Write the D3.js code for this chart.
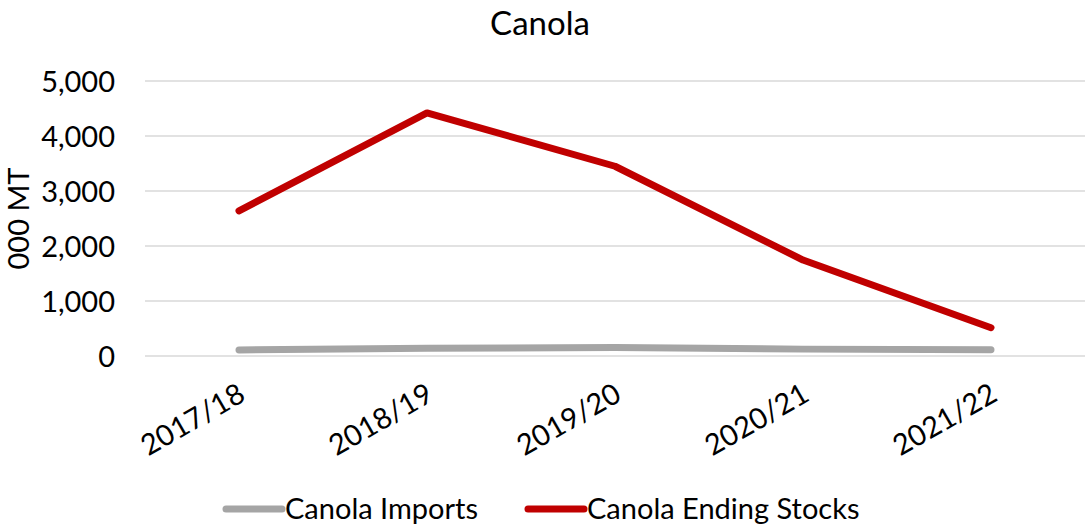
<!DOCTYPE html>
<html>
<head>
<meta charset="utf-8">
<script src="https://cdn.jsdelivr.net/npm/d3@7"></script>
<style>
  body { margin: 0; background: #fff; }
  text { font-family: Lato, "Open Sans", sans-serif; fill: #000; }
</style>
</head>
<body>
<script>
var seasons = ["2017/18", "2018/19", "2019/20", "2020/21", "2021/22"];
var imports = [110, 140, 155, 125, 115];
var endingStocks = [2640, 4420, 3450, 1745, 515];
var yTicks = [0, 1000, 2000, 3000, 4000, 5000];

var margin = {top: 81, right: 4, bottom: 172, left: 145},
    width = 1089 - margin.left - margin.right,
    height = 528 - margin.top - margin.bottom;

var svg = d3.select("body").append("svg")
    .attr("width", 1089)
    .attr("height", 528);

var g = svg.append("g")
    .attr("transform", "translate(" + margin.left + "," + margin.top + ")");

var xScale = d3.scalePoint().domain(seasons).range([0, width]).padding(0.5),
    yScale = d3.scaleLinear().domain([0, 5000]).range([height, 0]);

// gridlines
g.selectAll(".grid")
    .data(yTicks)
  .enter().append("line")
    .attr("x1", 0)
    .attr("x2", width)
    .attr("y1", function(d) { return yScale(d); })
    .attr("y2", function(d) { return yScale(d); })
    .style("stroke", "#d9d9d9")
    .style("stroke-width", 1.5);

// y axis
var yAxis = d3.axisLeft(yScale).tickValues(yTicks).tickSize(0).tickPadding(30)
    .tickFormat(d3.format(","));
g.append("g").call(yAxis)
    .call(function(a) { a.select(".domain").remove(); })
    .selectAll("text")
    .style("font-size", "29px")
    .attr("dy", "0.36em")
    .attr("font-family", null);

// x axis
var xAxis = d3.axisBottom(xScale).tickSize(0);
g.append("g")
    .attr("transform", "translate(0," + height + ")")
    .call(xAxis)
    .call(function(a) { a.select(".domain").remove(); })
    .selectAll("text")
    .attr("font-family", null)
    .style("font-size", "29px")
    .style("text-anchor", "end")
    .attr("dy", 0)
    .attr("transform", "translate(6,41) rotate(-30)");

// title
svg.append("text")
    .attr("x", 540)
    .attr("y", 35)
    .style("font-size", "33px")
    .style("text-anchor", "middle")
    .text("Canola");

// y label
svg.append("text")
    .attr("transform", "rotate(-90)")
    .attr("x", -(margin.top + height / 2))
    .attr("y", 29)
    .style("font-size", "29px")
    .style("text-anchor", "middle")
    .text("000 MT");

var line = d3.line()
    .x(function(d, i) { return xScale(seasons[i]); })
    .y(function(d) { return yScale(d); });

var series = [
  {name: "Canola Imports", values: imports, color: "#a5a5a5"},
  {name: "Canola Ending Stocks", values: endingStocks, color: "#c00000"}
];

g.selectAll(".series")
    .data(series)
  .enter().append("path")
    .attr("d", function(d) { return line(d.values); })
    .style("fill", "none")
    .style("stroke", function(d) { return d.color; })
    .style("stroke-width", 7)
    .style("stroke-linecap", "round")
    .style("stroke-linejoin", "round");

// legend
var legendX = [226, 528];
var legend = svg.selectAll(".legend")
    .data(series)
  .enter().append("g")
    .attr("transform", function(d, i) { return "translate(" + legendX[i] + ",509)"; });
legend.append("line")
    .attr("x1", 0).attr("x2", 56)
    .style("stroke", function(d) { return d.color; })
    .style("stroke-width", 7)
    .style("stroke-linecap", "round");
legend.append("text")
    .attr("x", 59)
    .attr("y", 10)
    .style("font-size", "29px")
    .text(function(d) { return d.name; });
</script>
</body>
</html>
